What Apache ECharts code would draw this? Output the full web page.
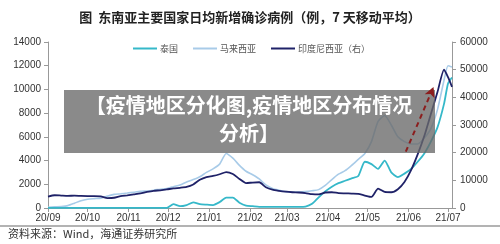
<!DOCTYPE html>
<html><head><meta charset="utf-8">
<script src="https://cdn.jsdelivr.net/npm/echarts@6/dist/echarts.min.js"></script>
<style>html,body{margin:0;padding:0;background:#fff;}#c{width:500px;height:244px;}</style>
</head><body><div id="c"></div>
<script>
const dates = ['2020-09-01','2020-09-06','2020-09-11','2020-09-16','2020-09-21','2020-09-26','2020-10-01','2020-10-06','2020-10-11','2020-10-16','2020-10-21','2020-10-26','2020-10-31','2020-11-05','2020-11-10','2020-11-15','2020-11-20','2020-11-25','2020-11-30','2020-12-05','2020-12-10','2020-12-15','2020-12-20','2020-12-25','2020-12-30','2021-01-04','2021-01-09','2021-01-14','2021-01-19','2021-01-24','2021-01-29','2021-02-03','2021-02-08','2021-02-13','2021-02-18','2021-02-23','2021-02-28','2021-03-05','2021-03-10','2021-03-15','2021-03-20','2021-03-25','2021-03-30','2021-04-04','2021-04-09','2021-04-14','2021-04-19','2021-04-24','2021-04-29','2021-05-04','2021-05-09','2021-05-14','2021-05-19','2021-05-24','2021-05-29','2021-06-03','2021-06-08','2021-06-13','2021-06-18','2021-06-23','2021-06-28','2021-07-01','2021-07-04'];
const seriesNames = ['泰国','马来西亚','印度尼西亚（右）'];
const thailand = [10,10,10,10,10,10,10,10,10,10,10,10,10,10,10,10,10,10,10,320,150,250,480,320,280,250,500,880,880,450,200,150,100,100,100,100,100,100,100,120,350,900,1400,1800,2100,2300,2500,2700,3900,3700,3300,4000,3000,2600,2900,3300,3900,4600,5600,6800,8800,10500,11000];
const malaysia = [60,100,130,200,400,620,740,790,830,1000,1150,1200,1260,1330,1400,1440,1500,1580,1650,1800,1950,2200,2400,2640,3000,3300,3700,4600,4200,3600,3100,2800,2450,1950,1650,1500,1380,1350,1350,1380,1450,1550,1900,2400,2850,3150,3600,4100,4600,5600,7300,7800,7000,6000,5600,5400,5400,5900,6700,8300,10800,12000,11900];
const indonesia = [4100,4600,4500,4400,4450,4350,4300,4300,4200,3600,3700,4300,4600,4950,5300,5800,6200,6400,6700,7100,7300,7600,8500,10200,11200,11600,12200,13000,12300,10500,9000,9200,9300,7500,6600,6200,5900,5700,5600,5400,5000,4900,5600,5700,5400,5300,5200,5100,4500,4000,7000,5800,5700,6800,9400,13700,19400,26000,34000,41900,50000,47300,43800];
const leftTicks = {min:0, max:14000, interval:2000};
const rightTicks = {min:0, max:60000, interval:10000};
const arrowFrom = ['2021-05-30', 4750];
const arrowTo = ['2021-06-20', 10200];

const CJK = '"Noto Sans CJK SC", sans-serif';
const LAT = '"Liberation Sans", Arial, sans-serif';
const pairs = v => dates.map((d,i)=>[d, v[i]]);
const ts = d => +new Date(d + 'T00:00:00');

const chart = echarts.init(document.getElementById('c'), null, {renderer:'canvas'});
chart.setOption({
  animation:false,
  backgroundColor:'#fff',
  title:{text:'图  东南亚主要国家日均新增确诊病例（例，7 天移动平均）', left:'center', top:6,
    textStyle:{fontFamily:CJK, fontSize:13, fontWeight:'bold', color:'#222'}},
  legend:{left:128, top:39, icon:'rect', itemWidth:24, itemHeight:2, itemGap:15,
    textStyle:{fontFamily:CJK, fontSize:9, color:'#555', padding:[0,0,0,-2]},
    data:seriesNames},
  grid:{left:48, right:48, top:42, bottom:36},
  xAxis:{type:'time', min:dates[0], max:dates[dates.length-1],
    minInterval:28*86400000, maxInterval:31*86400000,
    axisLine:{lineStyle:{color:'#999', width:1}},
    axisTick:{show:true, length:4, lineStyle:{color:'#999'}},
    splitLine:{show:false},
    axisLabel:{fontFamily:LAT, fontSize:10, color:'#333', margin:5, showMaxLabel:false,
      formatter:function(v){const d=new Date(v); return String(d.getFullYear()).slice(2)+'/'+String(d.getMonth()+1).padStart(2,'0');}}},
  yAxis:[
    {type:'value', min:leftTicks.min, max:leftTicks.max, interval:leftTicks.interval,
      axisLine:{show:true, lineStyle:{color:'#999'}}, axisTick:{show:true, length:4, lineStyle:{color:'#999'}},
      splitLine:{show:false},
      axisLabel:{fontFamily:LAT, fontSize:10, color:'#333', margin:7, formatter:v=>String(v)}},
    {type:'value', min:rightTicks.min, max:rightTicks.max, interval:rightTicks.interval, position:'right',
      axisLine:{show:true, lineStyle:{color:'#999'}}, axisTick:{show:true, length:4, lineStyle:{color:'#999'}},
      splitLine:{show:false},
      axisLabel:{fontFamily:LAT, fontSize:10, color:'#333', margin:8, formatter:v=>String(v)}}
  ],
  series:[
    {name:seriesNames[0], type:'line', yAxisIndex:0, data:pairs(thailand), symbol:'none', smooth:0.2,
      lineStyle:{color:'#35b8c9', width:1.8}, itemStyle:{color:'#35b8c9'}, z:3},
    {name:seriesNames[1], type:'line', yAxisIndex:0, data:pairs(malaysia), symbol:'none', smooth:0.2,
      lineStyle:{color:'#a8cbe8', width:1.6}, itemStyle:{color:'#a8cbe8'}, z:2},
    {name:seriesNames[2], type:'line', yAxisIndex:1, data:pairs(indonesia), symbol:'none', smooth:0.2,
      lineStyle:{color:'#1f2268', width:1.8}, itemStyle:{color:'#1f2268'}, z:4},
    {name:'arrow', type:'line', yAxisIndex:0, data:[], z:200, zlevel:0,
      markLine:{silent:true, z:200, symbol:['none','arrow'], symbolSize:[8,10],
        lineStyle:{color:'#8b1e1e', width:2, type:[5,4]}, label:{show:false},
        data:[[{coord:[ts(arrowFrom[0]), arrowFrom[1]]},{coord:[ts(arrowTo[0]), arrowTo[1]]}]]}}
  ],
  graphic:[
    {type:'line', shape:{x1:0,y1:226,x2:500,y2:226}, style:{stroke:'#9a9a9a', lineWidth:1.5}, z:10},
    {type:'text', left:8, top:228, style:{text:'资料来源：Wind，海通证券研究所', font:'11px '+CJK, fill:'#333'}, z:10},
    {type:'rect', shape:{x:64,y:90,width:371,height:63}, style:{fill:'rgba(105,105,105,0.78)'}, z:100},
    {type:'text', x:249, y:105, style:{text:'【疫情地区分化图,疫情地区分布情况', font:'bold 20px '+CJK, fill:'#fff', align:'center', verticalAlign:'middle'}, z:101},
    {type:'text', x:249, y:133, style:{text:'分析】', font:'bold 20px '+CJK, fill:'#fff', align:'center', verticalAlign:'middle'}, z:101}
  ]
});
</script></body></html>
